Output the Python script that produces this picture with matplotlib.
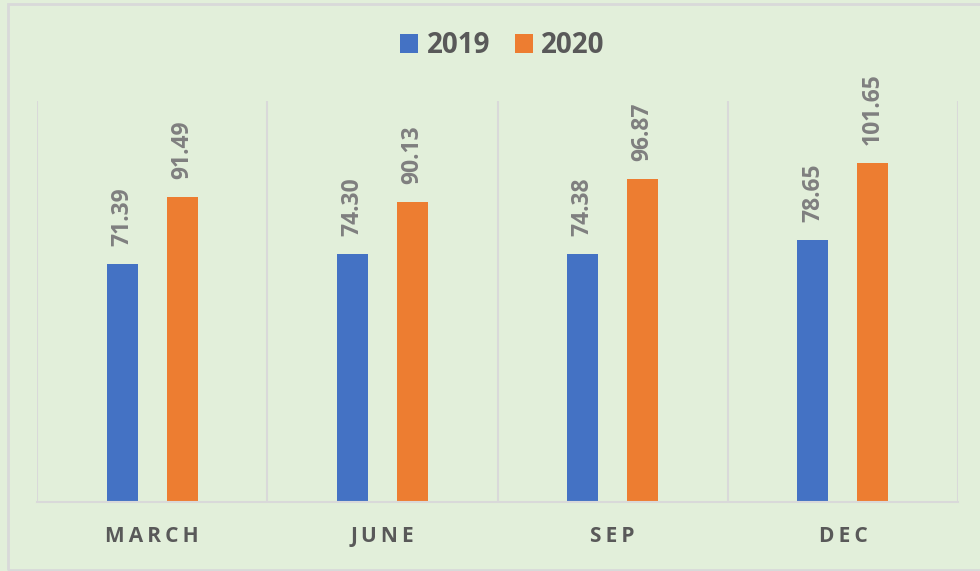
import numpy as np
import matplotlib.pyplot as plt
from matplotlib.patches import Rectangle

quarters = ["MARCH", "JUNE", "SEP", "DEC"]
series_names = ["2019", "2020"]
vals_2019 = [71.39, 74.30, 74.38, 78.65]
vals_2020 = [91.49, 90.13, 96.87, 101.65]

blue = "#4472C4"
orange = "#ED7D31"
bg = "#E2EFDA"
grid = "#D9D9D9"

plt.rcParams['font.family'] = ['Open Sans', 'DejaVu Sans']

fig = plt.figure(figsize=(9.8, 5.71), dpi=100, facecolor=bg)
fig.patches.append(Rectangle((7.5/980, 1.5/571), 1.2, 566/571, transform=fig.transFigure,
                             fill=False, edgecolor=grid, lw=2))
ax = fig.add_axes([37/980, 69/571, 921/980, 401/571])
ax.set_facecolor(bg)

x = np.arange(len(quarters))
w = 0.135
b1 = ax.bar(x - 0.13, vals_2019, w, color=blue, label=series_names[0])
b2 = ax.bar(x + 0.13, vals_2020, w, color=orange, label=series_names[1])

for bars in (b1, b2):
    for r in bars:
        ax.annotate(f"{r.get_height():.2f}", (r.get_x() + r.get_width()/2, r.get_height()),
                    xytext=(0, 13), textcoords="offset points", rotation=90,
                    ha="center", va="bottom", color="#7F7F7F", fontsize=16.5, fontweight="bold")

ax.set_xlim(-0.5, len(quarters) - 0.5)
ax.set_ylim(0, 120.3)
for xb in np.arange(-0.5, len(quarters), 1):
    ax.axvline(xb, color=grid, lw=1.5, zorder=0)
for s in ["top", "right", "left"]:
    ax.spines[s].set_visible(False)
ax.spines["bottom"].set_color(grid)
ax.spines["bottom"].set_linewidth(1.5)
ax.set_yticks([])
ax.set_xticks(x)
ax.set_xticklabels(["\u2009".join(q) for q in quarters], fontsize=15, fontweight="bold", color="#595959")
ax.tick_params(axis="x", length=0, pad=17)

leg = ax.legend(loc="center", bbox_to_anchor=(0.5055, 1.138), ncol=2, frameon=False,
                prop={"size": 20, "weight": "bold"}, handlelength=0.64, handleheight=0.64,
                handletextpad=0.3, columnspacing=0.9)
for t in leg.get_texts():
    t.set_color("#595959")

fig.savefig("out.png", dpi=100, facecolor=bg)
